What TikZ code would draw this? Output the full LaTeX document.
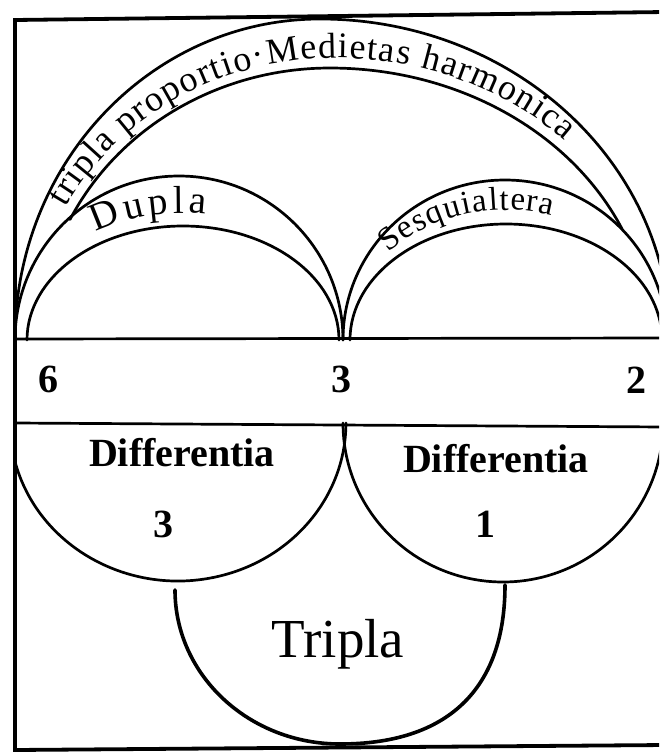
\documentclass[tikz,border=0pt]{standalone}
\usepackage{fontspec}
\setmainfont{Liberation Serif}
\usetikzlibrary{decorations.text}
\begin{document}
\begin{tikzpicture}[x=1pt,y=1pt,
  ink/.style={line width=2.7pt, line cap=round, line join=round},
  heavyink/.style={line width=3.6pt, line cap=round, line join=round},
  frameline/.style={line width=3.8pt, line join=miter},
  txt/.style={inner sep=0pt, anchor=base},
  difftxt/.style={txt, font=\fontsize{40}{40}\selectfont\bfseries},
  numtxt/.style={txt, font=\fontsize{40}{40}\selectfont\bfseries},
]
\useasboundingbox (0,0) rectangle (659,-755);
\begin{scope}
\clip (0,0) rectangle (659,-755);
% frame
\coordinate (TR) at (665,-12);
\coordinate (TL) at (15,-20);
\coordinate (BL) at (15,-750);
\coordinate (BR) at (665,-745);
\draw[frameline] (TR) -- (TL) -- (BL) -- (BR);
% band
\coordinate (b1l) at (15,-339);
\coordinate (b1r) at (665,-338);
\coordinate (b2l) at (15,-423);
\coordinate (b2r) at (665,-427);
\draw[ink] (b1l) -- (b1r);
\draw[ink] (b2l) -- (b2r);
% big outer arch
\draw[ink] (15,-340) arc[start angle=180, end angle=90, x radius=305, y radius=321]
                     arc[start angle=90, end angle=0, x radius=350, y radius=321];
% big inner arch (leaves the Dupla arch, joins the Sesquialtera arch)
\draw[ink] (70,-219.5) arc[start angle=153.7, end angle=90, x radius=290, y radius=272]
                       arc[start angle=90, end angle=24.1, x radius=320, y radius=272];
% Dupla
\draw[ink] (15,-340) arc[start angle=180, end angle=0, radius=164];
\draw[ink] (27,-340) arc[start angle=180, end angle=0, x radius=156, y radius=114];
% Sesquialtera
\draw[ink] (343,-340) arc[start angle=180, end angle=0, x radius=162, y radius=160];
\draw[ink] (350,-340) arc[start angle=180, end angle=0, x radius=156, y radius=116];
% Differentia circles
\draw[ink] (15,-461.5) arc[start angle=194.1, end angle=360, x radius=168, y radius=158];
\draw[ink] (343,-423) arc[start angle=180, end angle=360, x radius=160, y radius=159];
% Tripla
\draw[heavyink] (175,-590) arc[start angle=180, end angle=270, x radius=165, y radius=154]
   .. controls (447,-744) and (505,-690) .. (505,-585);
\end{scope}
% arch texts
\path[decorate, decoration={text along path, text align={fit to path},
  text={|\fontsize{36}{36}\selectfont|tripla proportio·Medietas harmonica}}]
  (65.7,-207.6) arc[start angle=152, end angle=90, x radius=305, y radius=282]
                arc[start angle=90, end angle=45, x radius=325, y radius=282];
\path[decorate, decoration={text along path, text align={fit to path},
  text={|\fontsize{39}{39}\selectfont|Dupla}}]
  (96.2,-232.3) arc[start angle=122, end angle=81, x radius=160, y radius=127];
\path[decorate, decoration={text along path, text align={fit to path},
  text={|\fontsize{33}{33}\selectfont|Sesquialtera}}]
  (388.6,-253.0) arc[start angle=138, end angle=73, x radius=158, y radius=130];
% band numbers
\node[numtxt] (n6) at (48,-392) {6};
\node[numtxt] (n3) at (341,-392) {3};
\node[numtxt] (n2) at (636,-393) {2};
% differentia
\node[difftxt] (d1) at (182,-466) {Differentia};
\node[difftxt] (d2) at (496,-472) {Differentia};
\node[numtxt] (v3) at (163,-537) {3};
\node[numtxt] (v1) at (485,-537) {1};
% tripla
\node[txt, font=\fontsize{55}{55}\selectfont] (tr) at (338,-657) {Tripla};
\end{tikzpicture}
\end{document}
